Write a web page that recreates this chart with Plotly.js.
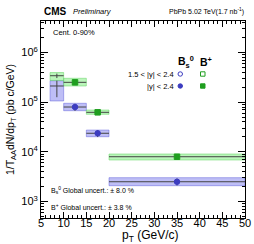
<!DOCTYPE html>
<html><head><meta charset="utf-8">
<script src="https://cdn.plot.ly/plotly-3.0.1.min.js"></script>
<style>body{margin:0;padding:0;background:#fff}#c{width:254px;height:244px}</style>
</head><body><div id="c"></div>
<script>
// ---- data ----
// B+ |y|<2.4 (bins 10-15,15-20,20-50)
const bpX = [12.5, 17.5, 35];
const bpLo = [10, 15, 20];
const bpHi = [15, 20, 50];
const bpY = [2.51e5, 6.26e4, 8.0e3];
const bpStat = [0.15e5, 0.3e4, 0.3e3];
const bpSysLo = [2.12e5, 5.71e4, 6.87e3];
const bpSysHi = [3.03e5, 6.97e4, 9.08e3];
// B+ 1.5<|y|<2.4 (bin 7-10)
const bpFX = [8.5];
const bpFLo = [7];
const bpFHi = [10];
const bpFY = [3.41e5];
const bpFStat = [0.35e5];
const bpFSysLo = [2.74e5];
const bpFSysHi = [3.96e5];
// Bs |y|<2.4
const bsX = [12.5, 17.5, 35];
const bsLo = [10, 15, 20];
const bsHi = [15, 20, 50];
const bsY = [8.0e4, 2.37e4, 2.51e3];
const bsStat = [1.3e4, 0.38e4, 0.4e3];
const bsSysLo = [6.75e4, 2.02e4, 2.09e3];
const bsSysHi = [9.5e4, 2.75e4, 3.03e3];
// Bs 1.5<|y|<2.4
const bsFX = [8.5];
const bsFLo = [7];
const bsFHi = [10];
const bsFY = [2.12e5];
const bsFStatUp = [0.59e5];
const bsFStatDn = [0.86e5];
const bsFSysLo = [1.06e5];
const bsFSysHi = [2.71e5];

const yTickVals = [1e3, 1e4, 1e5, 1e6];
const yTickText = ['10<sup>3</sup>', '10<sup>4</sup>', '10<sup>5</sup>', '10<sup>6</sup>'];
const xTickVals = [5, 10, 15, 20, 25, 30, 35, 40, 45, 50];

const blue = '#3c3cc0', green = '#1f9e1f';
const blueBox = 'rgba(110,110,235,0.45)', greenBox = 'rgba(120,235,120,0.5)';
const blueEdge = 'rgba(90,90,220,0.6)', greenEdge = 'rgba(90,210,90,0.6)';

function box(xc, lo, hi, ylo, yhi, fill, edge) {
  return {type: 'bar', x: xc, base: ylo, y: yhi.map((v, i) => v - ylo[i]),
    width: hi.map((v, i) => v - lo[i]), marker: {color: fill, line: {color: edge, width: 0.8}},
    hoverinfo: 'skip', showlegend: false};
}
function pts(xc, lo, hi, y, errUp, errDn, color, symbol) {
  return {type: 'scatter', mode: 'markers', x: xc, y: y,
    error_x: {type: 'data', symmetric: false, array: hi.map((v, i) => v - xc[i]), arrayminus: xc.map((v, i) => v - lo[i]), color: '#444', thickness: 1, width: 0},
    error_y: {type: 'data', symmetric: false, array: errUp, arrayminus: errDn, color: '#444', thickness: 1, width: 0},
    marker: {color: symbol.indexOf('open') >= 0 ? 'rgba(0,0,0,0)' : color, symbol: symbol, size: 5.5, line: {color: color, width: 1}},
    showlegend: false};
}

const traces = [
  box(bsFX, bsFLo, bsFHi, bsFSysLo, bsFSysHi, blueBox, blueEdge),
  box(bsX, bsLo, bsHi, bsSysLo, bsSysHi, blueBox, blueEdge),
  box(bpFX, bpFLo, bpFHi, bpFSysLo, bpFSysHi, greenBox, greenEdge),
  box(bpX, bpLo, bpHi, bpSysLo, bpSysHi, greenBox, greenEdge),
  pts(bsFX, bsFLo, bsFHi, bsFY, bsFStatUp, bsFStatDn, blue, 'circle-open'),
  pts(bsX, bsLo, bsHi, bsY, bsStat, bsStat, blue, 'circle'),
  pts(bpFX, bpFLo, bpFHi, bpFY, bpFStat, bpFStat, green, 'square-open'),
  pts(bpX, bpLo, bpHi, bpY, bpStat, bpStat, green, 'square'),
];

const F = 'Liberation Sans, Arial, sans-serif';
const ann = (x, y, text, size, xanchor, extra) => Object.assign({xref: 'paper', yref: 'paper', x: x, y: y, text: text, showarrow: false, xanchor: xanchor, yanchor: 'middle', font: {family: F, size: size, color: '#000'}}, extra || {});
// paper coordinates: plot spans px 41..245 (w=204), 21..218 (h=197)
const px = v => (v - 41) / 204;
const py = v => (218 - v) / 197;

const layout = {
  width: 254, height: 244,
  margin: {l: 41, r: 9, t: 21, b: 26},
  paper_bgcolor: '#fff', plot_bgcolor: '#fff',
  barmode: 'overlay', bargap: 0,
  showlegend: false,
  font: {family: F, color: '#000'},
  xaxis: {range: [5, 50], tickvals: xTickVals, ticks: 'inside', ticklen: 6, tickwidth: 1, tickcolor: '#000',
    showline: true, linecolor: '#000', linewidth: 1, mirror: 'ticks', showgrid: false, zeroline: false,
    tickfont: {size: 11, family: F}, ticklabelstandoff: -5,
    minor: {dtick: 1, ticks: 'inside', ticklen: 3, tickcolor: '#000', showgrid: false}},
  yaxis: {type: 'log', range: [2.67, 6.634], tickvals: yTickVals, ticktext: yTickText, ticks: 'inside', ticklen: 7, tickwidth: 1, tickcolor: '#000',
    showline: true, linecolor: '#000', linewidth: 1, mirror: 'ticks', showgrid: false, zeroline: false,
    tickfont: {size: 11, family: F},
    minor: {dtick: 'D1', ticks: 'inside', ticklen: 3, tickcolor: '#000', showgrid: false},
    title: {text: '1/T<sub>AA</sub>dN/dp<sub>T</sub> (pb c/GeV)', font: {size: 10.5, family: F}, standoff: 4}},
  annotations: [
    ann(px(150), -(244 - 218) / 197, 'p<sub>T</sub> (GeV/c)', 12, 'center', {yanchor: 'bottom', yshift: -1, borderpad: 0}),
    ann(px(42), 1 + (21 - 11) / 197, '<b>CMS</b>', 10, 'left'),
    ann(px(71), 1 + (21 - 11) / 197, '<i>Preliminary</i>', 7.5, 'left'),
    ann(px(246), 1 + (21 - 12) / 197, 'PbPb 5.02 TeV(1.7 nb<sup>-1</sup>)', 7, 'right'),
    ann(px(51), py(33), 'Cent. 0-90%', 7.5, 'left'),
    ann(px(186), py(62), '<b>B<sub>s</sub><sup>0</sup></b>', 10.5, 'center'),
    ann(px(206), py(62), '<b>B<sup>+</sup></b>', 10.5, 'center'),
    ann(px(176), py(74), '1.5 &lt; |y| &lt; 2.4', 7.5, 'right'),
    ann(px(176), py(86), '|y| &lt; 2.4', 7.5, 'right'),
    ann(px(49), py(190), 'B<sub>s</sub><sup>0</sup> Global uncert.: ± 8.0 %', 7, 'left'),
    ann(px(49), py(207), 'B<sup>+</sup> Global uncert.: ± 3.8 %', 7, 'left'),
  ],
  shapes: [
    {type: 'circle', xref: 'paper', yref: 'paper', x0: px(178), x1: px(182.5), y0: py(76.2), y1: py(71.8), line: {color: blue, width: 1}, fillcolor: 'rgba(0,0,0,0)'},
    {type: 'rect', xref: 'paper', yref: 'paper', x0: px(200.5), x1: px(205), y0: py(76.2), y1: py(71.8), line: {color: green, width: 1}, fillcolor: 'rgba(0,0,0,0)'},
    {type: 'circle', xref: 'paper', yref: 'paper', x0: px(178), x1: px(182.5), y0: py(88.2), y1: py(83.8), line: {color: blue, width: 1}, fillcolor: blue},
    {type: 'rect', xref: 'paper', yref: 'paper', x0: px(200.5), x1: px(205), y0: py(88.2), y1: py(83.8), line: {color: green, width: 1}, fillcolor: green},
  ]
};
Plotly.newPlot('c', traces, layout, {staticPlot: true, displayModeBar: false});
</script></body></html>
